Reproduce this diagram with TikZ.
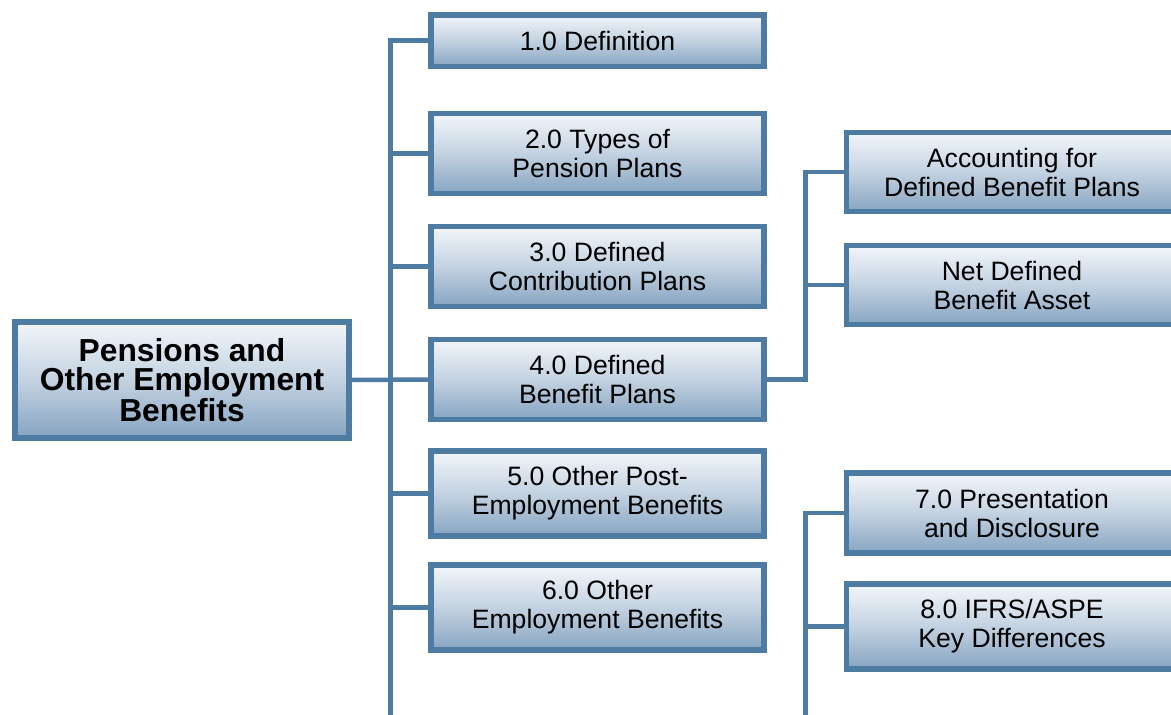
\documentclass[tikz,border=0pt]{standalone}
\usepackage{fontspec}
\setmainfont{Liberation Sans}
\definecolor{bordercol}{HTML}{4E7BA1}
\definecolor{topfill}{HTML}{F3F6FA}
\definecolor{midfill}{HTML}{C3D2E1}
\definecolor{botfill}{HTML}{86A4C1}
\tikzset{
  box/.style={draw=bordercol, line width=5.5, top color=topfill, bottom color=botfill, middle color=midfill,
    rectangle, align=center, inner sep=0pt, font=\fontsize{26.6}{29}\selectfont},
  mainbox/.style={box, font=\fontsize{31.8}{29.5}\selectfont\bfseries},
  col1/.style={box, minimum width=333},
  col2/.style={box, minimum width=331},
  link/.style={draw=bordercol, line width=4.5}
}
\begin{document}
\begin{tikzpicture}[x=1pt,y=-1pt]
\useasboundingbox (0,0) rectangle (1171,715);
\node[mainbox, minimum width=334, minimum height=116] (main) at (182,380) {Pensions and\\Other Employment\\Benefits};
\node[col1, minimum height=51.5] (b1) at (597.5,40.5) {1.0 Definition};
\node[col1, minimum height=80] (b2) at (597.5,153.5) {2.0 Types of\\Pension Plans};
\node[col1, minimum height=80] (b3) at (597.5,266.5) {3.0 Defined\\Contribution Plans};
\node[col1, minimum height=80] (b4) at (597.5,379.5) {4.0 Defined\\Benefit Plans};
\node[col1, minimum height=85] (b5) at (597.5,493.5) {5.0 Other Post-\\Employment Benefits};
\node[col1, minimum height=85] (b6) at (597.5,607.5) {6.0 Other\\Employment Benefits};
\node[col2, minimum height=79] (c1) at (1012,172) {Accounting for\\Defined Benefit Plans};
\node[col2, minimum height=79] (c2) at (1012,285) {Net Defined\\Benefit Asset};
\node[col2, minimum height=80] (c3) at (1012,513) {7.0 Presentation\\and Disclosure};
\node[col2, minimum height=85] (c4) at (1012,626.5) {8.0 IFRS/ASPE\\Key Differences};
\coordinate (t1end) at (390.5,715);
\coordinate (t3end) at (805.5,715);
% main trunk
\draw[link] (main.east) -- (b4.west);
\draw[link] (b1.west) -| (t1end);
\foreach \b in {b2,b3,b5,b6} \draw[link] (\b.west) -- (390.5,0 |- \b.west);
% second trunk
\draw[link] (b4.east) -| (805.5,0 |- c1.west) -- (c1.west);
\draw[link] (c2.west) -- (805.5,0 |- c2.west);
% third trunk
\draw[link] (c3.west) -| (t3end);
\draw[link] (c4.west) -- (805.5,0 |- c4.west);
\end{tikzpicture}
\end{document}
